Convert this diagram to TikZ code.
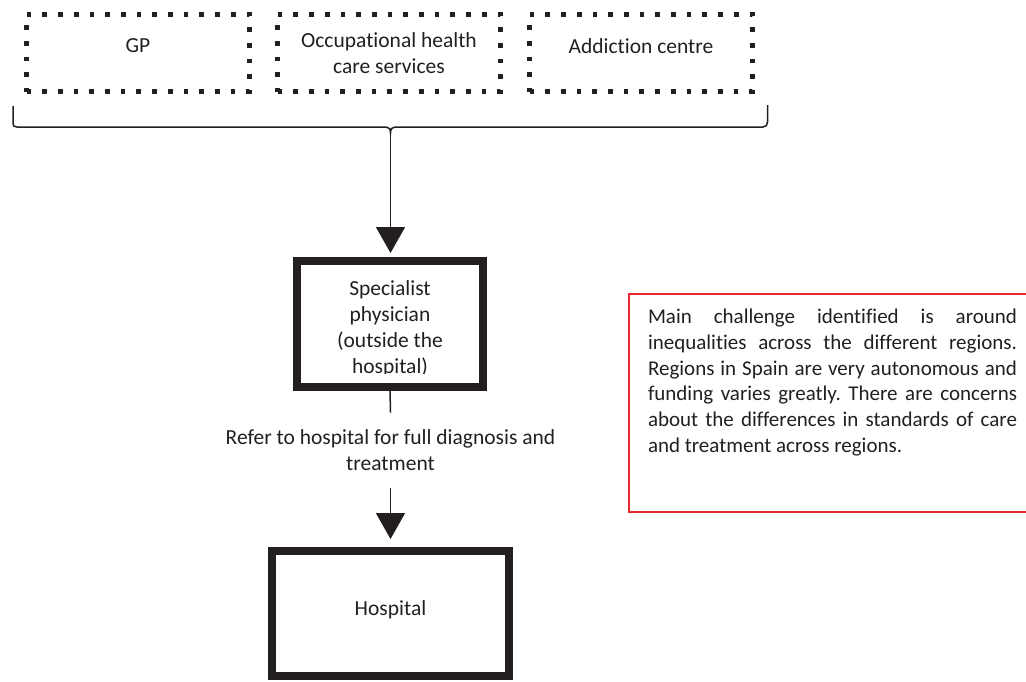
\documentclass[tikz,border=0pt]{standalone}
\usepackage{fontspec}
\setmainfont{Carlito}[Ligatures=NoCommon]
\usetikzlibrary{arrows.meta,calc,positioning}
\definecolor{ink}{RGB}{35,31,32}
\definecolor{notered}{RGB}{232,42,48}
\frenchspacing

\tikzset{
  dotbox/.style={draw=ink, line width=2.35pt, dash pattern=on 2.35pt off 5.5pt,
    minimum width=111.5pt, minimum height=38.5pt, align=center, inner sep=0pt},
  heavybox/.style={draw=ink, line width=4pt, align=center, inner sep=0pt},
  connector/.style={draw=ink, line width=0.75pt},
  flowarrow/.style={connector, -{Triangle[width=14.5pt,length=13pt]}},
  notebox/.style={draw=notered, line width=1pt, minimum width=202.5pt, minimum height=109pt},
  notetext/.style={text width=184.5pt, align=justify, inner sep=0pt,
    font=\fontsize{10.5pt}{12.9pt}\selectfont},
}

\begin{document}
\begin{tikzpicture}[x=0.5pt, y=-0.5pt, font=\fontsize{10.75pt}{13pt}\selectfont, text=ink]
\clip (0,0) rectangle (1026,681);
% referring services
\node[dotbox, text depth=7pt] (gp) at (138,53) {GP};
\node[dotbox] (occhealth) at (389,53) {Occupational health\\care services};
\node[dotbox, text depth=7pt] (addiction) at (641,53) {Addiction centre};
% brace under the three services
\draw[connector] (13,106) -- (13,123) .. controls (13,126) and (14,127) .. (17,127)
  -- (386,127) .. controls (389,127) and (390.5,129) .. (390.5,133) coordinate (bracetip)
  .. controls (390.5,129) and (392,127) .. (395,127)
  -- (763,127) .. controls (766,127) and (767.5,125) .. (767.5,122) -- (767.5,105);
% specialist
\node[heavybox, minimum width=93pt, minimum height=63pt] (spec) at (390,324) {};
\begin{scope}
  \clip ($(spec.north west)+(4,4)$) rectangle ($(spec.east)+(-4,49)$);
  \node[align=center] (spectext) at ($(spec.center)+(0,5)$) {Specialist\\physician\\(outside the\\hospital)};
\end{scope}
\draw[flowarrow] (bracetip) -- ($(spec.north)+(0.5,-4)$);
% referral to hospital
\node[align=center, inner xsep=0pt, inner ysep=8.5pt] (refer) at (390.5,450.5) {Refer to hospital for full diagnosis and\\treatment};
\draw[connector] (spec.south) -- (refer.north);
\node[heavybox, minimum width=118.5pt, minimum height=62.5pt, text depth=5.7pt] (hosp) at (390.5,613.5) {Hospital};
\draw[flowarrow] (refer.south) -- ($(hosp.north)+(0,-8)$);
% challenge note
\node[notebox] (challenge) at (831.5,402.5) {};
\node[notetext] (challengetext) at ($(challenge.center)+(1,-20)$) {\spaceskip=0.226em plus 0.4em minus 0.08em
\tolerance=10000 Main challenge identified is around\linebreak
inequalities across the different regions.\linebreak
Regions in Spain are very autonomous and\linebreak
funding varies greatly. There are concerns\linebreak
about the differences in standards of care\linebreak
and treatment across regions.};
\end{tikzpicture}
\end{document}
